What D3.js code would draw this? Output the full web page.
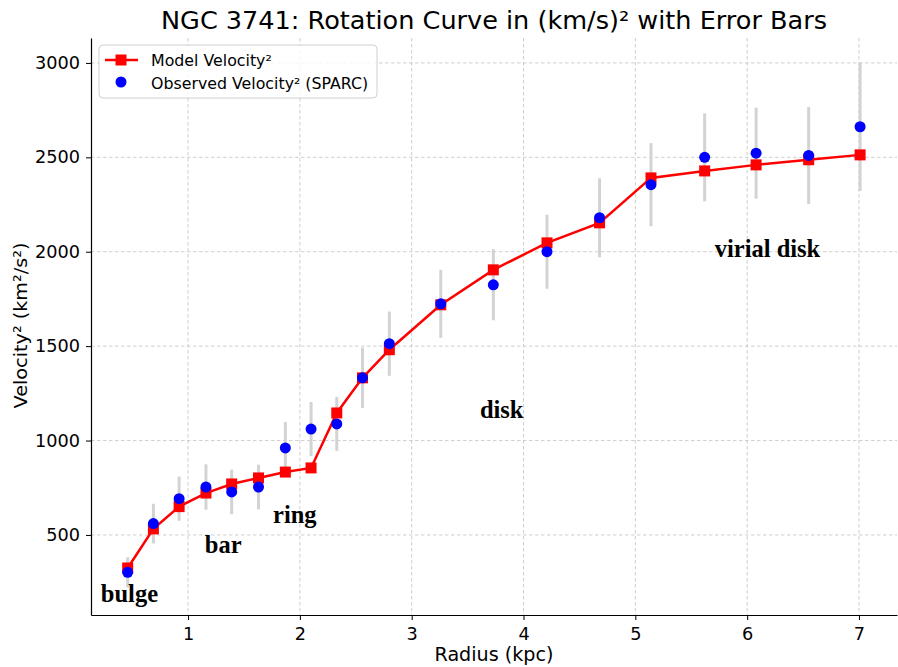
<!DOCTYPE html>
<html><head><meta charset="utf-8">
<script src="https://cdn.jsdelivr.net/npm/d3@7"></script>
<style>
html,body{margin:0;padding:0;background:#fff;}
svg{display:block;}
</style></head>
<body>
<script>
const radius = [0.46, 0.69, 0.92, 1.16, 1.39, 1.63, 1.87, 2.10, 2.33, 2.56, 2.80, 3.26, 3.73, 4.21, 4.68, 5.14, 5.62, 6.08, 6.55, 7.01];
const modelV2 = [325, 532, 650, 722, 770, 802, 833, 855, 1146, 1332, 1481, 1719, 1904, 2047, 2153, 2391, 2428, 2460, 2487, 2513];
const observedV2 = [302, 560, 692, 754, 728, 754, 961, 1061, 1088, 1332, 1513, 1724, 1825, 2000, 2180, 2355, 2500, 2522, 2510, 2662];
const errV2 = [80, 105, 117, 120, 118, 118, 138, 143, 143, 160, 170, 180, 188, 196, 209, 220, 233, 241, 257, 340];
const xTicks = [1, 2, 3, 4, 5, 6, 7];
const yTicks = [500, 1000, 1500, 2000, 2500, 3000];
const regionLabels = ["bulge", "bar", "ring", "disk", "virial disk"];
const regionX = [0.22, 1.15, 1.76, 3.61, 5.71];
const regionY = [143, 404, 563, 1119, 1972];

const W = 898, H = 667;
const L = 91, R = 897, T = 38, B = 615;
const svg = d3.select("body").append("svg").attr("width", W).attr("height", H);
const x = d3.scaleLinear().domain([0.132, 7.34]).range([L, R]);
const y = d3.scaleLinear().domain([76, 3132]).range([B, T]);
const font = "DejaVu Sans, sans-serif";

// grid
const grid = svg.append("g").attr("stroke", "#c8c8c8").attr("stroke-width", 0.9).attr("stroke-dasharray", "3.5,2.5");
grid.selectAll("line.v").data(xTicks).enter().append("line")
  .attr("x1", d => x(d)).attr("x2", d => x(d)).attr("y1", T).attr("y2", B);
grid.selectAll("line.h").data(yTicks).enter().append("line")
  .attr("x1", L).attr("x2", R).attr("y1", d => y(d)).attr("y2", d => y(d));

// axes
const xAxis = svg.append("g").attr("transform", `translate(0,${B})`)
  .call(d3.axisBottom(x).tickValues(xTicks).tickSize(5).tickSizeOuter(0).tickPadding(7).tickFormat(d3.format("d")));
const yAxis = svg.append("g").attr("transform", `translate(${L},0)`)
  .call(d3.axisLeft(y).tickValues(yTicks).tickSize(5).tickSizeOuter(0).tickPadding(6).tickFormat(d3.format("d")));
[xAxis, yAxis].forEach(a => {
  a.select(".domain").attr("stroke", "#000").attr("stroke-width", 1.2);
  a.selectAll(".tick line").attr("stroke", "#000").attr("stroke-width", 1);
  a.selectAll(".tick text").attr("font-family", font).attr("font-size", 17.7).attr("fill", "#000");
});

// error bars
svg.append("g").selectAll("line").data(radius).enter().append("line")
  .attr("x1", d => x(d)).attr("x2", d => x(d))
  .attr("y1", (d, i) => y(observedV2[i] - errV2[i]))
  .attr("y2", (d, i) => y(observedV2[i] + errV2[i]))
  .attr("stroke", "#d3d3d3").attr("stroke-width", 3);

// model line
const pts = radius.map((r, i) => [r, modelV2[i]]);
svg.append("path").datum(pts)
  .attr("d", d3.line().x(d => x(d[0])).y(d => y(d[1])))
  .attr("fill", "none").attr("stroke", "#ff0000").attr("stroke-width", 2.5);
const sq = 11;
svg.append("g").selectAll("rect").data(pts).enter().append("rect")
  .attr("x", d => x(d[0]) - sq / 2).attr("y", d => y(d[1]) - sq / 2)
  .attr("width", sq).attr("height", sq).attr("fill", "#ff0000");

// observed
svg.append("g").selectAll("circle").data(radius).enter().append("circle")
  .attr("cx", d => x(d)).attr("cy", (d, i) => y(observedV2[i]))
  .attr("r", 5.5).attr("fill", "#0000ff");

// region labels
svg.append("g").selectAll("text").data(regionLabels).enter().append("text")
  .attr("x", (d, i) => x(regionX[i])).attr("y", (d, i) => y(regionY[i]))
  .attr("font-family", "Liberation Serif, serif").attr("font-weight", "bold")
  .attr("font-size", 24.5).attr("fill", "#000").text(d => d);

// title & labels
svg.append("text").attr("x", (L + R) / 2).attr("y", 29).attr("text-anchor", "middle")
  .attr("font-family", font).attr("font-size", 25.5).attr("fill", "#000")
  .attr("textLength", 666).attr("lengthAdjust", "spacingAndGlyphs")
  .text("NGC 3741: Rotation Curve in (km/s)² with Error Bars");
svg.append("text").attr("x", (L + R) / 2).attr("y", 661).attr("text-anchor", "middle")
  .attr("font-family", font).attr("font-size", 19).attr("fill", "#000")
  .attr("textLength", 119).attr("lengthAdjust", "spacingAndGlyphs")
  .text("Radius (kpc)");
svg.append("text").attr("transform", `translate(27,325.5) rotate(-90)`)
  .attr("text-anchor", "middle")
  .attr("font-family", font).attr("font-size", 18.5).attr("fill", "#000")
  .attr("textLength", 166).attr("lengthAdjust", "spacingAndGlyphs")
  .text("Velocity² (km²/s²)");

// legend
const lg = svg.append("g");
lg.append("rect").attr("x", 99).attr("y", 45).attr("width", 278).attr("height", 53)
  .attr("rx", 4).attr("fill", "#fff").attr("fill-opacity", 0.8)
  .attr("stroke", "#d0d0d0").attr("stroke-width", 1);
lg.append("line").attr("x1", 105).attr("x2", 138).attr("y1", 60).attr("y2", 60)
  .attr("stroke", "#ff0000").attr("stroke-width", 2.5);
lg.append("rect").attr("x", 121 - 5.5).attr("y", 60 - 5.5).attr("width", 11).attr("height", 11).attr("fill", "#ff0000");
lg.append("circle").attr("cx", 121).attr("cy", 82).attr("r", 5.5).attr("fill", "#0000ff");
lg.append("text").attr("x", 151).attr("y", 65.5).attr("font-family", font).attr("font-size", 15.8).text("Model Velocity²");
lg.append("text").attr("x", 151).attr("y", 88.5).attr("font-family", font).attr("font-size", 15.8).text("Observed Velocity² (SPARC)");
</script>
</body></html>
